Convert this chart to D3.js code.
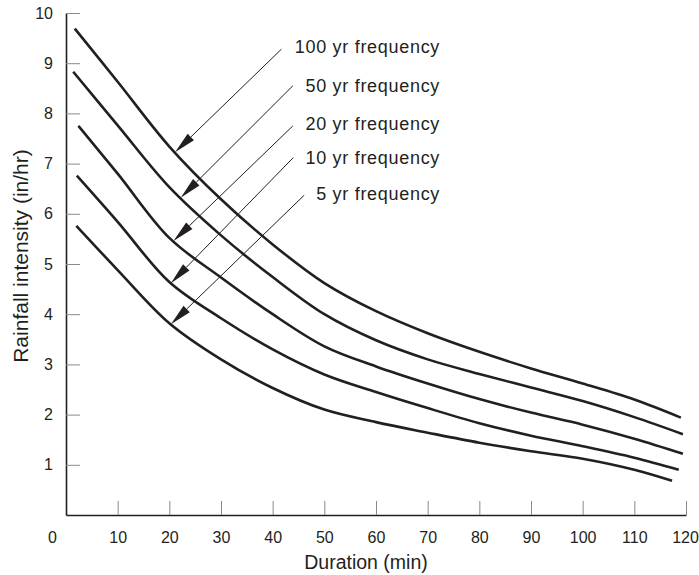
<!DOCTYPE html>
<html>
<head>
<meta charset="utf-8">
<script src="https://d3js.org/d3.v7.min.js"></script>
<style>
body { margin: 0; background: #fff; }
.axis text { font-family: "Liberation Sans", Arial, sans-serif; font-size: 16px; fill: #231f20; }
.axis .domain { stroke: #231f20; stroke-width: 1.6px; }
.axis .tick line { stroke: #8a8a8a; stroke-width: 1px; }
.title { font-family: "Liberation Sans", Arial, sans-serif; fill: #231f20; }
.freq { font-family: "Liberation Sans", Arial, sans-serif; font-size: 18px; letter-spacing: 0.7px; fill: #231f20; }
</style>
</head>
<body>
<svg id="chart" width="699" height="575"></svg>
<script>
// durations (min) shared by the middle of every curve
var durations = [10, 20, 30, 40, 50, 60, 70, 80, 90, 100, 110];

var labels = ["100 yr frequency", "50 yr frequency", "20 yr frequency", "10 yr frequency", "5 yr frequency"];

// where each curve begins and ends (min)
var startDur = [1.7, 1.4, 2.4, 2.1, 2.0];
var endDur = [119.0, 119.4, 119.4, 118.6, 117.3];

// intensity (in/hr): start, 10..110, end
var yr100 = [9.69, 8.63, 7.34, 6.29, 5.39, 4.62, 4.06, 3.62, 3.25, 2.92, 2.62, 2.30, 1.94];
var yr50  = [8.83, 7.76, 6.53, 5.57, 4.74, 4.00, 3.48, 3.10, 2.81, 2.54, 2.27, 1.95, 1.61];
var yr20  = [7.75, 6.80, 5.52, 4.73, 4.00, 3.36, 2.96, 2.62, 2.31, 2.04, 1.80, 1.52, 1.22];
var yr10  = [6.76, 5.84, 4.64, 3.92, 3.30, 2.80, 2.45, 2.13, 1.83, 1.58, 1.37, 1.14, 0.90];
var yr5   = [5.76, 4.88, 3.82, 3.10, 2.53, 2.10, 1.85, 1.64, 1.44, 1.27, 1.12, 0.90, 0.68];

// label arrows: tip duration on the curve, tail point, label baseline
var tipDur = [21.1, 22.2, 20.8, 20.3, 20.3];
var tailDur = [41.7, 43.9, 43.9, 44.0, 46.1];
var tailVal = [9.28, 8.55, 7.75, 7.12, 6.37];
var labelDur = 72.4;
var labelVal = [9.20, 8.43, 7.67, 6.99, 6.27];

var xTicks = [0, 10, 20, 30, 40, 50, 60, 70, 80, 90, 100, 110, 120];
var yTicks = [1, 2, 3, 4, 5, 6, 7, 8, 9, 10];

var svg = d3.select("#chart");

var x = d3.scaleLinear().domain([0, 120]).range([66, 686]);
var y = d3.scaleLinear().domain([0, 10]).range([515, 13]);

var series = [yr100, yr50, yr20, yr10, yr5].map(function(vals, i) {
  var xs = [startDur[i]].concat(durations).concat([endDur[i]]);
  return xs.map(function(d, j) { return {t: d, v: vals[j]}; });
});

// axes, ticks point inward
var xAxis = svg.append("g")
  .attr("class", "axis")
  .attr("transform", "translate(0,515)")
  .call(d3.axisBottom(x).tickValues(xTicks).tickSizeInner(-14).tickSizeOuter(0).tickPadding(17));
xAxis.selectAll(".tick").filter(function(d) { return d == 0; }).select("text").attr("x", -14);
xAxis.selectAll(".tick").filter(function(d) { return d == 0; }).select("line").remove();
xAxis.selectAll(".tick").filter(function(d) { return d == 120; }).select("text").attr("x", -1);

var yAxis = svg.append("g")
  .attr("class", "axis")
  .attr("transform", "translate(66,0)")
  .call(d3.axisLeft(y).tickValues(yTicks).tickSizeInner(-14).tickSizeOuter(0).tickPadding(13));

svg.append("text")
  .attr("class", "title")
  .attr("text-anchor", "middle")
  .attr("font-size", "19.5px")
  .attr("x", 366)
  .attr("y", 569)
  .text("Duration (min)");

svg.append("text")
  .attr("class", "title")
  .attr("text-anchor", "middle")
  .attr("font-size", "21px")
  .attr("transform", "translate(28,256) rotate(-90)")
  .text("Rainfall intensity (in/hr)");

var line = d3.line()
  .x(function(d) { return x(d.t); })
  .y(function(d) { return y(d.v); })
  .curve(d3.curveCatmullRom.alpha(0.5));

svg.append("g").selectAll("path")
  .data(series)
  .enter()
  .append("path")
  .attr("d", line)
  .attr("fill", "none")
  .attr("stroke", "#231f20")
  .attr("stroke-width", 2.6);

// value of a curve at a duration (linear between read points)
function valueAt(s, t) {
  for (var j = 1; j < s.length; j++) {
    if (t <= s[j].t) {
      var a = s[j - 1], b = s[j];
      return a.v + (b.v - a.v) * (t - a.t) / (b.t - a.t);
    }
  }
  return s[s.length - 1].v;
}

var arrows = svg.append("g");
labels.forEach(function(lab, i) {
  var tx = x(tipDur[i]), ty = y(valueAt(series[i], tipDur[i]));
  var sx = x(tailDur[i]), sy = y(tailVal[i]);
  var dx = tx - sx, dy = ty - sy, len = Math.sqrt(dx * dx + dy * dy);
  var ux = dx / len, uy = dy / len;
  var headLen = 22, half = 4.5;
  var bx = tx - ux * headLen, by = ty - uy * headLen;

  arrows.append("line")
    .attr("x1", sx).attr("y1", sy)
    .attr("x2", bx).attr("y2", by)
    .attr("stroke", "#231f20")
    .attr("stroke-width", 1);

  arrows.append("path")
    .attr("d", "M" + tx + "," + ty +
               "L" + (bx - uy * half) + "," + (by + ux * half) +
               "L" + (bx + uy * half) + "," + (by - ux * half) + "Z")
    .attr("fill", "#231f20");

  svg.append("text")
    .attr("class", "freq")
    .attr("text-anchor", "end")
    .attr("x", x(labelDur))
    .attr("y", y(labelVal[i]))
    .text(lab);
});
</script>
</body>
</html>
